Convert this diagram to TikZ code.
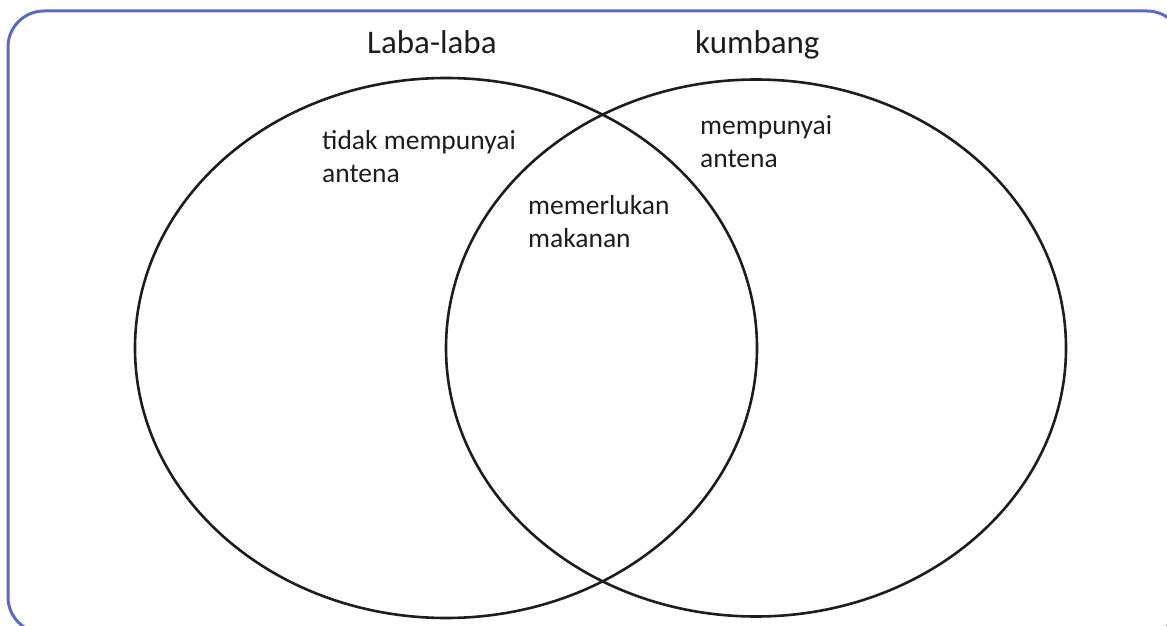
\documentclass[tikz,border=0pt]{standalone}
\usepackage{fontspec}
\setmainfont{Carlito}
\usetikzlibrary{shapes.geometric}
\definecolor{frameblue}{RGB}{92,108,184}
\definecolor{inkline}{RGB}{30,28,30}
\begin{document}
\begin{tikzpicture}[x=1pt,y=-1pt,
    setring/.style={ellipse,draw=inkline,line width=2.6pt,inner sep=0pt},
    settitle/.style={anchor=base west,inner sep=0pt,font=\fontsize{33}{40}\selectfont,text=inkline},
    setnote/.style={anchor=base west,inner sep=0pt,align=left,font=\fontsize{27.5}{33}\selectfont,text=inkline}]
  \useasboundingbox (0,0) rectangle (1167,626);
  \clip (0,0) rectangle (1167,626);
  % frame
  \draw[frameblue,line width=3pt,rounded corners=36pt] (8,11) rectangle (1183,633);
  % the two sets
  \node[setring,minimum width=622pt,minimum height=540pt] (laba) at (446,348) {};
  \node[setring,minimum width=620pt,minimum height=537pt] (kumbang) at (756,348) {};
  % titles
  \node[settitle] (labatitle) at (367,53) {Laba-laba};
  \node[settitle] (kumbangtitle) at (695,53) {kumbang};
  % notes (base = last line)
  \node[setnote] (labanote) at (322,182) {tidak mempunyai\\antena};
  \node[setnote] (bothnote) at (528,247) {memerlukan\\makanan};
  \node[setnote] (kumbangnote) at (700,167) {mempunyai\\antena};
\end{tikzpicture}
\end{document}
